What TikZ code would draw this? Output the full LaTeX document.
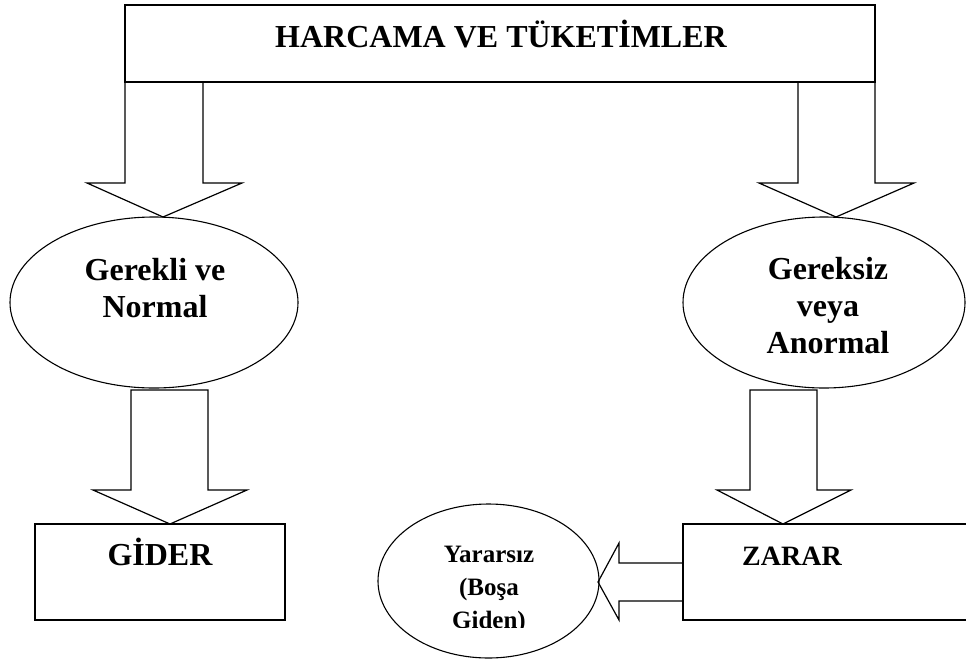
\documentclass[tikz,border=0pt]{standalone}
\usepackage{fontspec}
\setmainfont{Liberation Serif}
\usetikzlibrary{shapes.geometric}

\begin{document}
\begin{tikzpicture}[
  x=1pt, y=-1pt,
  box/.style={draw, line width=1.2pt, inner sep=0pt},
  oval/.style={ellipse, draw, line width=1.1pt, inner sep=0pt},
  blockarrow/.style={draw, line width=1.2pt, line join=miter},
  big/.style={font=\fontsize{32}{37}\selectfont\bfseries, align=center, inner sep=0pt, anchor=base},
  mid/.style={font=\fontsize{28}{33}\selectfont\bfseries, align=center, inner sep=0pt, anchor=base},
  small/.style={font=\fontsize{25}{33}\selectfont\bfseries, align=center, inner sep=0pt, anchor=base}
]
\useasboundingbox (0,0) rectangle (966,662);

% Top box
\node[box, minimum width=750pt, minimum height=77pt] (harcama) at (500,43.5) {};
\node[big] (harcamatxt) at (501,47) {HARCAMA VE TÜKETİMLER};

% Arrows down from the top box
\draw[blockarrow] (125,82) -- (125,183) -- (87,183) -- (163,217) -- (242,183) -- (203,183) -- (203,82);
\draw[blockarrow] (798,82) -- (798,183) -- (759,183) -- (836,217) -- (914,183) -- (875,183) -- (875,82);

% Ellipses
\node[oval, minimum width=288pt, minimum height=171pt] (gerekli) at (154,302.5) {};
\node[big] (gereklitxt) at (155,317) {Gerekli ve\\Normal};
\node[oval, minimum width=282pt, minimum height=171pt] (gereksiz) at (824,302.5) {};
\node[big] (gereksiztxt) at (828,353) {Gereksiz\\veya\\Anormal};

% Arrows down from the ellipses
\draw[blockarrow] (131,390) -- (131,490) -- (93,490) -- (170,524) -- (247,490) -- (208,490) -- (208,390) -- cycle;
\draw[blockarrow] (750,390) -- (750,490) -- (717,490) -- (783,524) -- (851,490) -- (817,490) -- (817,390) -- cycle;

% Bottom boxes
\node[box, minimum width=250pt, minimum height=96pt] (gider) at (160,572) {};
\node[big] (gidertxt) at (160,565) {GİDER};
\node[box, minimum width=302pt, minimum height=96pt] (zarar) at (834,572) {};
\node[mid] (zarartxt) at (792,565) {ZARAR};

% Arrow to the left
\draw[blockarrow] (683,563) -- (619,563) -- (619,543) -- (598,582) -- (619,620) -- (619,601) -- (683,601);

% Yararsiz
\node[oval, minimum width=221pt, minimum height=154pt] (yararsiz) at (488.5,581) {};
\begin{scope}
  \clip (378,500) rectangle (600,627);
  \node[small] (yararsiztxt) at (489,628) {Yararsız\\(Boşa\\Giden)};
\end{scope}
\end{tikzpicture}
\end{document}
